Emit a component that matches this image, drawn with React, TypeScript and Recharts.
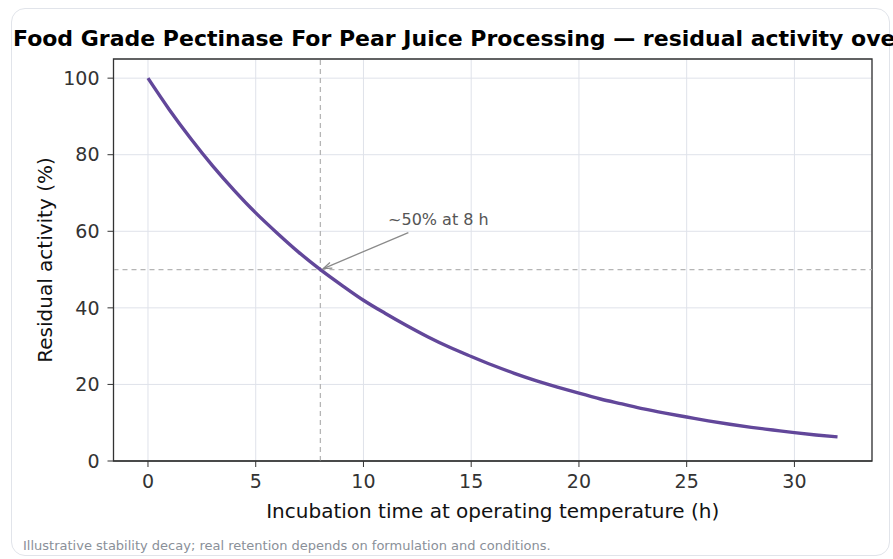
import { LineChart, Line, XAxis, YAxis, CartesianGrid, ReferenceLine, ReferenceArea, ReferenceDot } from 'recharts';

// hours of incubation and residual activity (%)
const hours = [0, 1, 2, 3, 4, 5, 6, 7, 8, 9, 10, 11, 12, 13, 14, 15, 16, 17, 18, 19, 20, 21, 22, 23, 24, 25, 26, 27, 28, 29, 30, 31, 32];
const activity = [100, 91.7, 84.1, 77.1, 70.7, 64.8, 59.5, 54.5, 50, 45.9, 42.0, 38.6, 35.4, 32.4, 29.7, 27.3, 25, 22.9, 21.0, 19.3, 17.7, 16.2, 14.9, 13.6, 12.5, 11.5, 10.5, 9.6, 8.8, 8.1, 7.4, 6.8, 6.3];
const xTicks = [0, 5, 10, 15, 20, 25, 30];
const yTicks = [0, 20, 40, 60, 80, 100];
const halfLife = { t: 8, pct: 50, note: '~50% at 8 h' };

const data = hours.map((h, i) => ({ h, a: activity[i] }));

const FONT = '"DejaVu Sans", sans-serif';
const INK = '#333333';

function Annotation(props: any) {
    const { cx, cy } = props;
    if (cx == null || cy == null) return null;
    const sx = cx + 88, sy = cy - 37;
    const ex = cx + 3, ey = cy - 1;
    const ang = Math.atan2(sy - ey, sx - ex);
    const len = 9;
    const a1 = ang + 0.35, a2 = ang - 0.35;
    return (
        <g>
            <line x1={sx} y1={sy} x2={ex} y2={ey} stroke="#8a8a8a" strokeWidth={1.3} />
            <polyline
                points={`${ex + len * Math.cos(a1)},${ey + len * Math.sin(a1)} ${ex},${ey} ${ex + len * Math.cos(a2)},${ey + len * Math.sin(a2)}`}
                fill="none" stroke="#8a8a8a" strokeWidth={1.3} />
            <text x={cx + 118} y={cy - 45} textAnchor="middle" fontSize={16} fill="#555555" fontFamily={FONT}>{halfLife.note}</text>
        </g>
    );
}

export default function App() {
    return (
        <div style={{ position: 'absolute', left: 0, top: 0, width: 893, height: 559, background: '#fff', fontFamily: FONT, overflow: 'hidden' }}>
            <div style={{ position: 'absolute', left: 11, top: 8, width: 877, height: 546, border: '1px solid #e1e4ea', borderRadius: 14 }} />
            <div style={{ position: 'absolute', left: 13, top: 26, width: 880, whiteSpace: 'nowrap', overflow: 'hidden', fontSize: 22, fontWeight: 'bold', color: '#000' }}>
                Food Grade Pectinase For Pear Juice Processing — residual activity over incubation time
            </div>
            <div style={{ position: 'absolute', left: 23, top: 538, fontSize: 13, color: '#8a9099', whiteSpace: 'nowrap' }}>
                Illustrative stability decay; real retention depends on formulation and conditions.
            </div>
            <div style={{ position: 'absolute', left: 0, top: 0 }}>
                <LineChart width={893} height={559} data={data} margin={{ top: 59, right: 21, bottom: 28, left: 0 }}>
                    <CartesianGrid stroke="#dfe2ea" strokeWidth={1} />
                    <XAxis
                        dataKey="h" type="number" domain={[-1.6, 33.6]} ticks={xTicks} allowDataOverflow
                        height={70} tickSize={6} tickMargin={8}
                        stroke={INK} tick={{ fill: INK, fontSize: 19, fontFamily: FONT }}
                        label={{
                            content: ({ viewBox }: any) => (
                                <text x={viewBox.x + viewBox.width / 2} y={viewBox.y + 57} textAnchor="middle" fontSize={20} fill="#111" fontFamily={FONT}>
                                    Incubation time at operating temperature (h)
                                </text>
                            ),
                        }}
                    />
                    <YAxis
                        type="number" domain={[0, 105]} ticks={yTicks} allowDataOverflow
                        width={113.5} tickSize={6} tickMargin={8}
                        stroke={INK} tick={{ fill: INK, fontSize: 19, fontFamily: FONT }}
                        label={{
                            content: ({ viewBox }: any) => {
                                const cy = viewBox.y + viewBox.height / 2;
                                return (
                                    <text x={52} y={cy} transform={`rotate(-90, 52, ${cy})`} textAnchor="middle" fontSize={20} fill="#111" fontFamily={FONT}>
                                        Residual activity (%)
                                    </text>
                                );
                            },
                        }}
                    />
                    <ReferenceLine x={halfLife.t} stroke="#b5b5b5" strokeDasharray="5 4" strokeWidth={1.3} />
                    <ReferenceLine y={halfLife.pct} stroke="#b5b5b5" strokeDasharray="5 4" strokeWidth={1.3} />
                    <Line type="monotone" dataKey="a" stroke="#62479a" strokeWidth={3.4} dot={false} isAnimationActive={false} />
                    <ReferenceDot x={halfLife.t} y={halfLife.pct} shape={Annotation} />
                    <ReferenceArea x1={-1.6} x2={33.6} y1={0} y2={105} fill="none" stroke={INK} strokeWidth={1.3} ifOverflow="visible" />
                </LineChart>
            </div>
        </div>
    );
}
